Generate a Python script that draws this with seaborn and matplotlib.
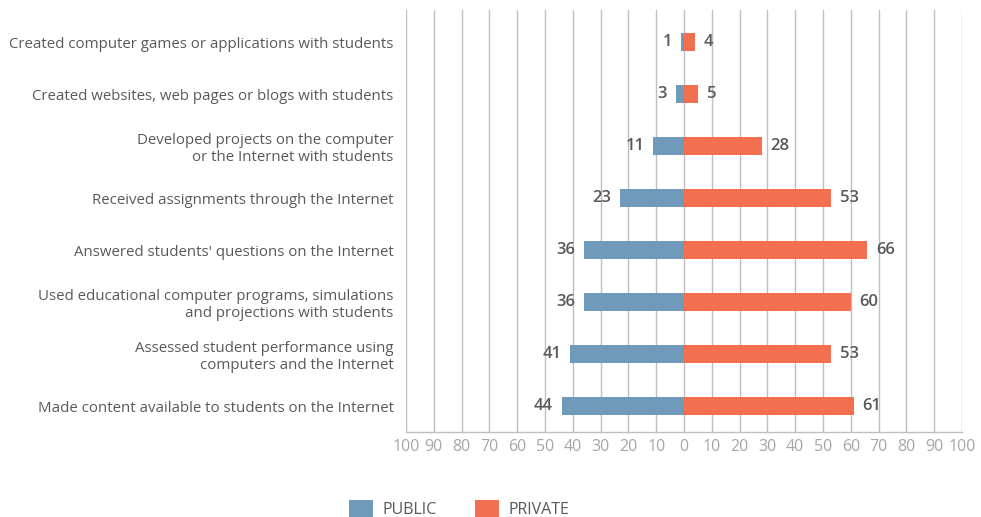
import matplotlib
matplotlib.use("Agg")
import matplotlib.pyplot as plt
import seaborn as sns
import pandas as pd
from matplotlib.patches import Patch

activities = [
    "Created computer games or applications with students",
    "Created websites, web pages or blogs with students",
    "Developed projects on the computer\nor the Internet with students",
    "Received assignments through the Internet",
    "Answered students' questions on the Internet",
    "Used educational computer programs, simulations\nand projections with students",
    "Assessed student performance using\ncomputers and the Internet",
    "Made content available to students on the Internet",
]
public = [1, 3, 11, 23, 36, 36, 41, 44]
private = [4, 5, 28, 53, 66, 60, 53, 61]
ticks = list(range(-100, 101, 10))
series_names = ["PUBLIC", "PRIVATE"]

public_color = "#6F9AB9"
private_color = "#F26F50"
text_color = "#595959"
grid_color = "#BFBFBF"

sns.set_theme(style="white")
plt.rcParams["font.family"] = ["Open Sans", "DejaVu Sans"]

df = pd.DataFrame({
    "activity": activities * 2,
    "value": [-v for v in public] + private,
    "sector": [series_names[0]] * len(public) + [series_names[1]] * len(private),
})

fig = plt.figure(figsize=(9.81, 5.17), dpi=100)
ax = fig.add_axes([0.4139, 0.1644, 0.5667, 0.8163])

sns.barplot(data=df, x="value", y="activity", hue="sector", dodge=False,
            palette=[public_color, private_color], width=0.35, saturation=1,
            linewidth=0, edgecolor="none",
            order=activities, hue_order=series_names, ax=ax, legend=False,
            zorder=3)

ax.set_xlim(-100, 100)
ax.set_ylim(7.5, -0.62)
ax.set_xticks(ticks)
ax.set_xticklabels([str(abs(t)) for t in ticks], color="#A6A6A6", fontsize=11.5)
ax.tick_params(axis="x", length=0, pad=5)
ax.tick_params(axis="y", length=0, pad=9)
for lbl in ax.get_yticklabels():
    lbl.set_color(text_color)
    lbl.set_fontsize(10.8)
    lbl.set_horizontalalignment("right")
    lbl.set_multialignment("right")
ax.set_xlabel("")
ax.set_ylabel("")
ax.xaxis.grid(True, color=grid_color, linewidth=1)
ax.set_axisbelow(True)
for side in ["top", "left", "right"]:
    ax.spines[side].set_visible(False)
ax.spines["bottom"].set_color(grid_color)
ax.spines["bottom"].set_linewidth(1)

for i, (pu, pr) in enumerate(zip(public, private)):
    ax.text(-pu - 3.2, i, str(pu), ha="right", va="center", fontsize=12,
            fontweight="semibold", color=text_color)
    ax.text(pr + 3.2, i, str(pr), ha="left", va="center", fontsize=12,
            fontweight="semibold", color=text_color)

handles = [Patch(facecolor=public_color, edgecolor="none"),
           Patch(facecolor=private_color, edgecolor="none")]
fig.legend(handles, series_names, loc="lower center", bbox_to_anchor=(0.468, -0.03),
           ncol=2, frameon=False, handlelength=1.5, handleheight=1.4,
           columnspacing=2.4, handletextpad=0.6, fontsize=11.5,
           labelcolor=text_color)

fig.savefig("out.png", dpi=100)
